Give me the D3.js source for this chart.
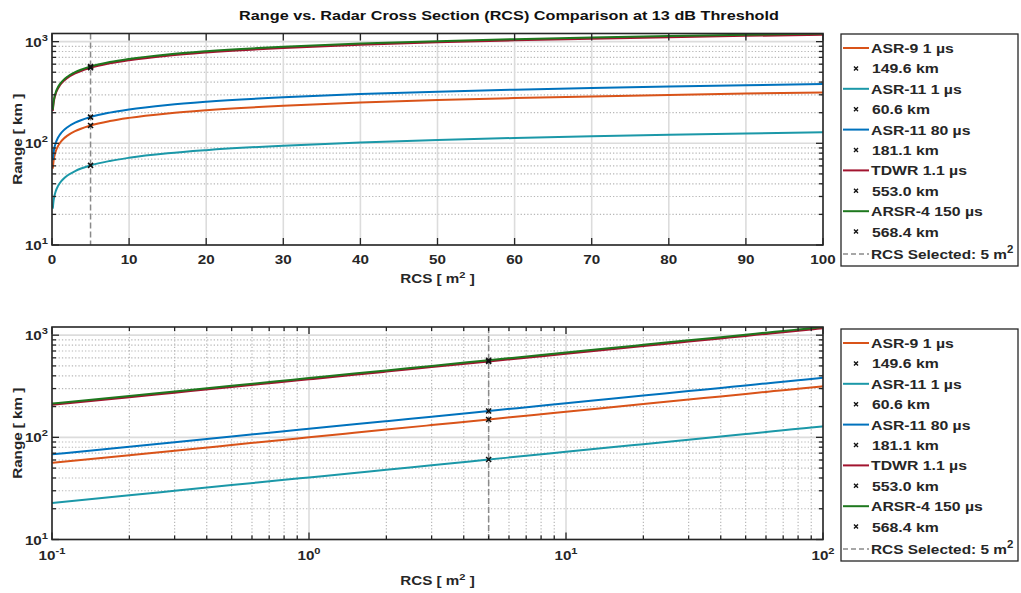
<!DOCTYPE html>
<html>
<head>
<meta charset="utf-8">
<script src="https://cdn.jsdelivr.net/npm/d3@7"></script>
<style>
body { margin: 0; background: #fff; }
text { font-family: "Liberation Sans", Arial, Helvetica, sans-serif; font-weight: bold; fill: #262626; }
</style>
</head>
<body>
<svg id="chart" width="1021" height="593"></svg>
<script>
// RCS sample points [m^2] and ranges [km]
let rcs = [0.1, 0.2, 0.3, 0.5, 0.75, 1, 1.5, 2, 3, 5, 7.5, 10, 15, 20, 30, 40, 50, 60, 70, 80, 90, 100]

let asr9 = [56.3, 66.9, 74.0, 84.1, 93.1, 100.0, 110.7, 119.0, 131.7, 149.6, 165.6, 177.9, 196.9, 211.6, 234.1, 251.6, 266.0, 278.4, 289.4, 299.2, 308.1, 316.4]
let asr11short = [22.8, 27.1, 30.0, 34.1, 37.7, 40.5, 44.8, 48.2, 53.3, 60.6, 67.1, 72.1, 79.8, 85.7, 94.8, 101.9, 107.8, 112.8, 117.2, 121.2, 124.8, 128.2]
let asr11long = [68.1, 81.0, 89.6, 101.8, 112.7, 121.1, 134.0, 144.0, 159.4, 181.1, 200.4, 215.4, 238.3, 256.1, 283.4, 304.6, 322.0, 337.1, 350.3, 362.2, 373.0, 383.0]
let tdwr = [208.0, 247.3, 273.7, 311.0, 344.1, 369.8, 409.3, 439.8, 486.7, 553.0, 612.0, 657.6, 727.8, 782.1, 865.5, 930.0, 983.4, 1029.2, 1069.7, 1106.0, 1139.1, 1169.5]
let arsr4 = [213.8, 254.2, 281.3, 319.6, 353.7, 380.1, 420.7, 452.0, 500.3, 568.4, 629.0, 675.9, 748.1, 803.8, 889.6, 955.9, 1010.8, 1057.9, 1099.5, 1136.8, 1170.8, 1202.0]

let seriesNames = ["ASR-9 1 µs", "ASR-11 1 µs", "ASR-11 80 µs", "TDWR 1.1 µs", "ARSR-4 150 µs"]
let seriesColors = ["#D95319", "#1B98A8", "#0072BD", "#A2142F", "#1E781E"]
let seriesValues = [asr9, asr11short, asr11long, tdwr, arsr4]

let selectedRcs = 5
let selectedRange = [149.6, 60.6, 181.1, 553.0, 568.4]

let linearTicks = [0, 10, 20, 30, 40, 50, 60, 70, 80, 90, 100]
let logXTicks = [0.1, 1, 10, 100]
let logXExp = ["-1", "0", "1", "2"]
let yTicks = [10, 100, 1000]
let yExp = ["1", "2", "3"]

let svg = d3.select('#chart')

let mainTitle = "Range vs. Radar Cross Section (RCS) Comparison at 13 dB Threshold"

// the original font is wider than Liberation Sans, so stretch the text a bit
let SX = 1.17
let txt = (parent, x, y, anchor, size, sx) => {
    return parent.append('text')
                 .attr('transform', 'translate(' + x + ',' + y + ') scale(' + (sx || SX) + ',1)')
                 .attr('text-anchor', anchor)
                 .attr('font-size', size)
}

let minorOf = (majors, max) => {
    let out = []
    majors.forEach(m => {
        for (let k = 2; k <= 9; k++) {
            if (m * k < max) out.push(m * k)
        }
    })
    return out
}

let drawPanel = (p, idx) => {
    let xScale = p.log
        ? d3.scaleLog().domain([0.1, 100]).range([p.left, p.right])
        : d3.scaleLinear().domain([0, 100]).range([p.left, p.right])
    let yScale = d3.scaleLog().domain([10, 1202]).range([p.bottom, p.top])

    let g = svg.append('g')

    let clipId = 'clip' + idx
    svg.append('clipPath').attr('id', clipId)
       .append('rect')
       .attr('x', p.left).attr('y', p.top)
       .attr('width', p.right - p.left).attr('height', p.bottom - p.top)

    // minor grid (dotted)
    let yMinor = minorOf([10, 100, 1000], 1202)
    g.selectAll('.yminor')
     .data(yMinor).enter().append('line')
     .attr('x1', p.left).attr('x2', p.right)
     .attr('y1', d => yScale(d)).attr('y2', d => yScale(d))
     .attr('stroke', '#b8b8b8').attr('stroke-width', 1.2)
     .attr('stroke-dasharray', '1.3,2')

    let xMinor = p.log ? minorOf([0.1, 1, 10], 100) : []
    g.selectAll('.xminor')
     .data(xMinor).enter().append('line')
     .attr('x1', d => xScale(d)).attr('x2', d => xScale(d))
     .attr('y1', p.top).attr('y2', p.bottom)
     .attr('stroke', '#b8b8b8').attr('stroke-width', 1.2)
     .attr('stroke-dasharray', '1.3,2')

    // major grid (solid, light)
    let xMajor = p.log ? logXTicks : linearTicks
    g.selectAll('.xmajor')
     .data(xMajor).enter().append('line')
     .attr('x1', d => xScale(d)).attr('x2', d => xScale(d))
     .attr('y1', p.top).attr('y2', p.bottom)
     .attr('stroke', '#dcdcdc').attr('stroke-width', 1.6)
    g.selectAll('.ymajor')
     .data(yTicks).enter().append('line')
     .attr('x1', p.left).attr('x2', p.right)
     .attr('y1', d => yScale(d)).attr('y2', d => yScale(d))
     .attr('stroke', '#dcdcdc').attr('stroke-width', 1.6)

    // selected RCS line
    g.append('line')
     .attr('x1', xScale(selectedRcs)).attr('x2', xScale(selectedRcs))
     .attr('y1', p.top).attr('y2', p.bottom)
     .attr('stroke', '#8a8a8a').attr('stroke-width', 1.5)
     .attr('stroke-dasharray', '6,3')

    // curves
    let line = d3.line()
                 .x((d, i) => xScale(rcs[i]))
                 .y(d => yScale(d))
                 .curve(d3.curveMonotoneX)

    let plot = g.append('g').attr('clip-path', 'url(#' + clipId + ')')
    seriesValues.forEach((vals, i) => {
        plot.append('path')
            .attr('d', line(vals))
            .attr('fill', 'none')
            .attr('stroke', seriesColors[i])
            .attr('stroke-width', 2)
    })

    // markers at the selected RCS
    plot.selectAll('.mark')
        .data(selectedRange).enter().append('path')
        .attr('transform', d => 'translate(' + xScale(selectedRcs) + ',' + yScale(d) + ')')
        .attr('d', 'M-2.5,-2.5L2.5,2.5M-2.5,2.5L2.5,-2.5')
        .attr('stroke', '#111').attr('stroke-width', 1.6)

    // ticks
    let tickCol = '#262626'
    let xt = g.append('g')
    xMajor.forEach(v => {
        let x = xScale(v)
        xt.append('line').attr('x1', x).attr('x2', x).attr('y1', p.bottom).attr('y2', p.bottom - 7)
          .attr('stroke', tickCol).attr('stroke-width', 1.3)
        xt.append('line').attr('x1', x).attr('x2', x).attr('y1', p.top).attr('y2', p.top + 7)
          .attr('stroke', tickCol).attr('stroke-width', 1.3)
    })
    xMinor.forEach(v => {
        let x = xScale(v)
        xt.append('line').attr('x1', x).attr('x2', x).attr('y1', p.bottom).attr('y2', p.bottom - 4)
          .attr('stroke', tickCol).attr('stroke-width', 1.3)
        xt.append('line').attr('x1', x).attr('x2', x).attr('y1', p.top).attr('y2', p.top + 4)
          .attr('stroke', tickCol).attr('stroke-width', 1.3)
    })
    yTicks.forEach(v => {
        let y = yScale(v)
        xt.append('line').attr('x1', p.left).attr('x2', p.left + 7).attr('y1', y).attr('y2', y)
          .attr('stroke', tickCol).attr('stroke-width', 1.3)
        xt.append('line').attr('x1', p.right).attr('x2', p.right - 7).attr('y1', y).attr('y2', y)
          .attr('stroke', tickCol).attr('stroke-width', 1.3)
    })
    yMinor.forEach(v => {
        let y = yScale(v)
        xt.append('line').attr('x1', p.left).attr('x2', p.left + 4).attr('y1', y).attr('y2', y)
          .attr('stroke', tickCol).attr('stroke-width', 1.3)
        xt.append('line').attr('x1', p.right).attr('x2', p.right - 4).attr('y1', y).attr('y2', y)
          .attr('stroke', tickCol).attr('stroke-width', 1.3)
    })

    // box
    g.append('rect')
     .attr('x', p.left).attr('y', p.top)
     .attr('width', p.right - p.left).attr('height', p.bottom - p.top)
     .attr('fill', 'none').attr('stroke', tickCol).attr('stroke-width', 1.6)

    // tick labels
    if (p.log) {
        logXTicks.forEach((v, i) => {
            let t = txt(g, xScale(v), p.bottom + 20, 'middle', 13)
            t.append('tspan').text('10')
            t.append('tspan').attr('dy', -6).attr('font-size', 9.5).text(logXExp[i])
        })
    } else {
        linearTicks.forEach(v => {
            txt(g, xScale(v), p.bottom + 19, 'middle', 13).text(v)
        })
    }
    yTicks.forEach((v, i) => {
        let t = txt(g, p.left - 4, yScale(v) + 5, 'end', 13)
        t.append('tspan').text('10')
        t.append('tspan').attr('dy', -6).attr('font-size', 9.5).text(yExp[i])
    })

    // axis labels
    let xl = txt(g, (p.left + p.right) / 2, p.bottom + (p.log ? 45 : 38), 'middle', 13)
    xl.append('tspan').text('RCS [ m')
    xl.append('tspan').attr('dy', -5).attr('font-size', 9.5).text('2')
    xl.append('tspan').attr('dy', 5).text(' ]')

    g.append('text')
     .attr('transform', 'translate(22,' + ((p.top + p.bottom) / 2) + ') rotate(-90) scale(' + SX + ',1)')
     .attr('text-anchor', 'middle').attr('font-size', 13)
     .text('Range [ km ]')

    // legend
    let lg = svg.append('g').attr('transform', 'translate(' + p.legX + ',' + p.legY + ')')
    lg.append('rect').attr('x', 0).attr('y', 0).attr('width', 177).attr('height', 232)
      .attr('fill', '#fff').attr('stroke', tickCol).attr('stroke-width', 1.3)
    seriesNames.forEach((name, i) => {
        let y1 = 14 + i * 2 * 20.4
        let y2 = y1 + 20.4
        lg.append('line').attr('x1', 2).attr('x2', 28).attr('y1', y1).attr('y2', y1)
          .attr('stroke', seriesColors[i]).attr('stroke-width', 2)
        txt(lg, 30, y1 + 5, 'start', 13.5).text(name)
        lg.append('path').attr('transform', 'translate(15,' + y2 + ')')
          .attr('d', 'M-2,-2L2,2M-2,2L2,-2')
          .attr('stroke', '#111').attr('stroke-width', 1.4)
        txt(lg, 31, y2 + 5, 'start', 13.5)
          .text(d3.format('.1f')(selectedRange[i]) + ' km')
    })
    let yr = 220
    lg.append('line').attr('x1', 2).attr('x2', 28).attr('y1', yr).attr('y2', yr)
      .attr('stroke', '#8a8a8a').attr('stroke-width', 1.3).attr('stroke-dasharray', '5,3')
    let rt = txt(lg, 30, yr + 5, 'start', 13.5, 1.14)
    rt.append('tspan').text('RCS Selected: ' + selectedRcs + ' m')
    rt.append('tspan').attr('dy', -6).attr('font-size', 10).text('2')
}

txt(svg, 509, 20, 'middle', 13.3, 1.22)
   .style('fill', '#111')
   .text(mainTitle)

drawPanel({left: 52, right: 823, top: 33.5, bottom: 245, log: false, legX: 841, legY: 34}, 0)
drawPanel({left: 52, right: 823, top: 327, bottom: 539.5, log: true, legX: 841, legY: 329}, 1)
</script>
</body>
</html>
